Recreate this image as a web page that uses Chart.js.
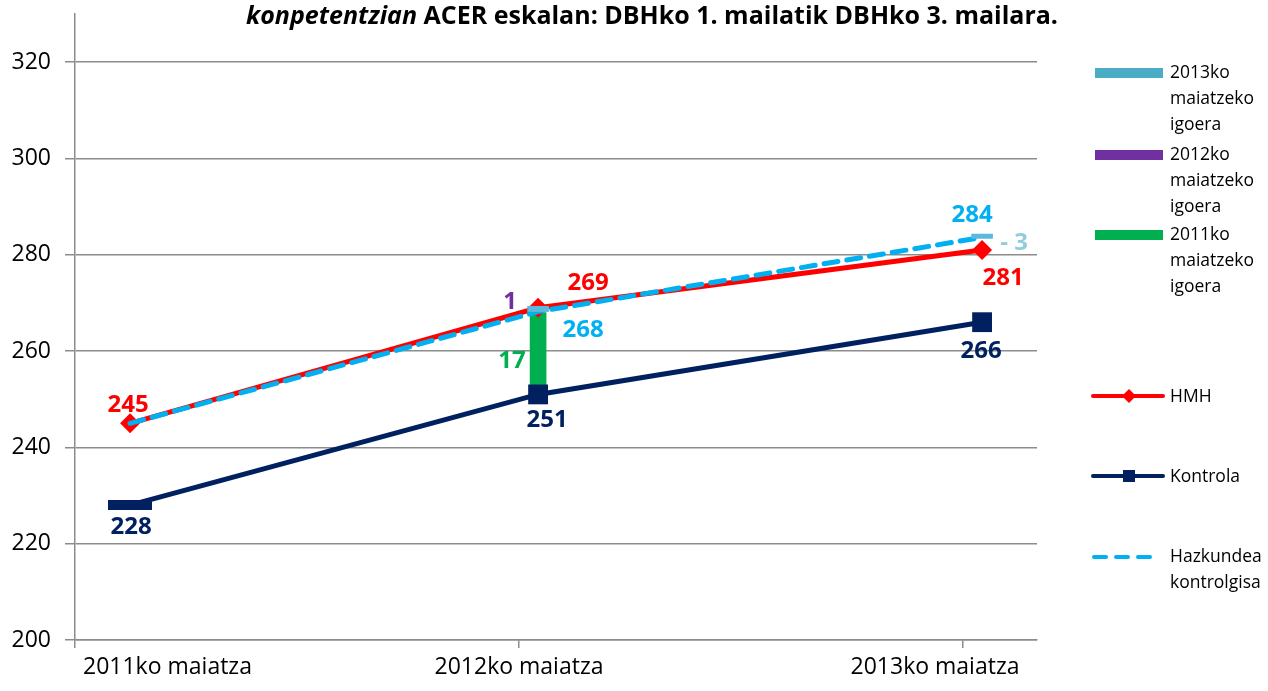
<!DOCTYPE html>
<html>
<head>
<meta charset="utf-8">
<script src="https://cdn.jsdelivr.net/npm/chart.js@4.4.0/dist/chart.umd.min.js"></script>
<style>
  html, body { margin: 0; background: #fff; }
</style>
</head>
<body>
<canvas id="chart" width="1268" height="691"></canvas>
<script>
// Categories and values
const years = ['2011ko maiatza', '2012ko maiatza', '2013ko maiatza'];
const xPos = [0.124, 1.043, 2.043];          // where each measurement sits on the date axis
const hmh = [245, 269, 281];
const kontrola = [228, 251, 266];
const hazkundea = [245, 268.2, 283.6];
const igoera = [17, 1, 3];                    // 2011, 2012, 2013 igoera labels
const igoera2011Bar = [251, 268];
const igoera2012Bar = [268.2, 269.3];
const igoera2013Bar = [283.4, 284.3];
const yTicks = [200, 220, 240, 260, 280, 300, 320];

const colors = {
  red: '#ff0000',
  navy: '#002060',
  dash: '#00b0f0',
  green: '#00b050',
  purple: '#7030a0',
  cyan: '#4bacc6',
  smallBar: '#5cb8dc',
  grid: '#8c8c8c',
  three: '#93cddd',
};

Chart.defaults.font.family = "'Open Sans', sans-serif";

// 2011 control marker is drawn as a wide flat block
const wideMark = document.createElement('canvas');
wideMark.width = 44;
wideMark.height = 10;
const wctx = wideMark.getContext('2d');
wctx.fillStyle = colors.navy;
wctx.fillRect(0, 0, 44, 10);

const pts = (vals) => vals.map((v, i) => ({ x: xPos[i], y: v }));

/* ======== Labels, title, legend ======== */
const decorPlugin = {
  id: 'decor',
  afterDatasetsDraw(chart) {
    const ctx = chart.ctx;
    const yScale = chart.scales.y;
    ctx.save();
    ctx.font = "bold 24px 'Open Sans'";
    ctx.textAlign = 'center';
    ctx.textBaseline = 'middle';

    const pointLabel = (dsIndex, i, dx, dy, color, text) => {
      const el = chart.getDatasetMeta(dsIndex).data[i];
      ctx.fillStyle = color;
      ctx.fillText(text, el.x + dx, el.y + dy);
    };
    // Hazkundea (0), HMH (1), Kontrola (2)
    pointLabel(1, 0, -2, -18, colors.red, hmh[0]);
    pointLabel(1, 1, 50, -25, colors.red, hmh[1]);
    pointLabel(1, 2, 21, 28, colors.red, hmh[2]);
    pointLabel(2, 0, 1, 22, colors.navy, kontrola[0]);
    pointLabel(2, 1, 9, 26, colors.navy, kontrola[1]);
    pointLabel(2, 2, -1, 29, colors.navy, kontrola[2]);
    pointLabel(0, 1, 45, 19, colors.dash, Math.round(hazkundea[1]));
    pointLabel(0, 2, -10, -22, colors.dash, Math.round(hazkundea[2]));

    // igoera labels
    const g = chart.getDatasetMeta(3).data[0];
    ctx.fillStyle = colors.green;
    ctx.fillText(igoera[0], g.x - 26, (g.y + g.base) / 2 + 8);
    const p = chart.getDatasetMeta(4).data[0];
    ctx.fillStyle = colors.purple;
    ctx.fillText(igoera[1], p.x - 28, p.y - 4);
    const c = chart.getDatasetMeta(5).data[0];
    ctx.fillStyle = colors.three;
    ctx.fillText('- ' + igoera[2], c.x + 32, yScale.getPixelForValue(hmh[2] + igoera[2] / 2));
    ctx.restore();
  },
  afterDraw(chart) {
    const ctx = chart.ctx;
    const xScale = chart.scales.x;
    ctx.save();

    // title (second line only is visible)
    const t1 = 'konpetentzian';
    const t2 = ' ACER eskalan: DBHko 1. mailatik DBHko 3. mailara.';
    ctx.fillStyle = '#000';
    ctx.textBaseline = 'alphabetic';
    ctx.font = "italic bold 25px 'Open Sans'";
    const w1 = ctx.measureText(t1).width;
    ctx.font = "bold 25px 'Open Sans'";
    const w2 = ctx.measureText(t2).width;
    let tx = 652 - (w1 + w2) / 2;
    ctx.font = "italic bold 25px 'Open Sans'";
    ctx.textAlign = 'left';
    ctx.fillText(t1, tx, 24);
    ctx.font = "bold 25px 'Open Sans'";
    ctx.fillText(t2, tx + w1, 24);

    // x labels (Excel date axis keeps them inside the plot width)
    ctx.font = "23px 'Open Sans'";
    ctx.textBaseline = 'middle';
    ctx.textAlign = 'left';
    ctx.fillText(years[0], xScale.getPixelForValue(0) + 8, 667);
    ctx.textAlign = 'center';
    ctx.fillText(years[1], xScale.getPixelForValue(1), 667);
    ctx.fillText(years[2], xScale.getPixelForValue(2) - 28, 667);

    // legend
    ctx.font = "17.5px 'Open Sans'";
    ctx.textAlign = 'left';
    const boxItems = [
      [colors.cyan, 73, ['2013ko', 'maiatzeko', 'igoera']],
      [colors.purple, 155, ['2012ko', 'maiatzeko', 'igoera']],
      [colors.green, 235, ['2011ko', 'maiatzeko', 'igoera']],
    ];
    boxItems.forEach(([col, y, lines]) => {
      ctx.fillStyle = col;
      ctx.fillRect(1095, y - 5, 68, 10);
      ctx.fillStyle = '#000';
      lines.forEach((s, k) => ctx.fillText(s, 1170, y + k * 26));
    });

    ctx.lineCap = 'round';
    ctx.lineWidth = 4;
    // HMH
    ctx.strokeStyle = colors.red;
    ctx.beginPath(); ctx.moveTo(1093, 396); ctx.lineTo(1163, 396); ctx.stroke();
    ctx.fillStyle = colors.red;
    ctx.beginPath();
    ctx.moveTo(1129, 389); ctx.lineTo(1136, 396); ctx.lineTo(1129, 403); ctx.lineTo(1122, 396);
    ctx.closePath(); ctx.fill();
    ctx.fillStyle = '#000';
    ctx.fillText('HMH', 1170, 397);
    // Kontrola
    ctx.strokeStyle = colors.navy;
    ctx.beginPath(); ctx.moveTo(1093, 476); ctx.lineTo(1163, 476); ctx.stroke();
    ctx.fillStyle = colors.navy;
    ctx.fillRect(1123, 470, 12, 12);
    ctx.fillStyle = '#000';
    ctx.fillText('Kontrola', 1170, 477);
    // Hazkundea
    ctx.strokeStyle = colors.dash;
    ctx.setLineDash([12, 10]);
    ctx.beginPath(); ctx.moveTo(1094, 557); ctx.lineTo(1160, 557); ctx.stroke();
    ctx.setLineDash([]);
    ctx.fillStyle = '#000';
    ctx.fillText('Hazkundea', 1170, 557);
    ctx.fillText('kontrolgisa', 1170, 583);
    ctx.restore();
  }
};

new Chart(document.getElementById('chart'), {
  type: 'line',
  data: {
    datasets: [
      {
        label: 'Hazkundea kontrolgisa',
        data: pts(hazkundea),
        borderColor: colors.dash,
        borderWidth: 5,
        borderDash: [14, 9],
        borderCapStyle: 'round',
        pointRadius: 0,
        tension: 0,
        order: 0,
      },
      {
        label: 'HMH',
        data: pts(hmh),
        borderColor: colors.red,
        backgroundColor: colors.red,
        borderWidth: 5,
        pointStyle: 'rectRot',
        pointRadius: 10,
        pointBorderWidth: 0,
        tension: 0,
        order: 1,
      },
      {
        label: 'Kontrola',
        data: pts(kontrola),
        borderColor: colors.navy,
        backgroundColor: colors.navy,
        borderWidth: 5,
        pointStyle: [wideMark, 'rect', 'rect'],
        pointRadius: 14,
        pointBorderWidth: 0,
        tension: 0,
        order: 2,
      },
      {
        type: 'bar',
        label: '2011ko maiatzeko igoera',
        data: [{ x: xPos[1], y: igoera2011Bar }],
        backgroundColor: colors.green,
        barThickness: 16,
        grouped: false,
        order: 3,
      },
      {
        type: 'bar',
        label: '2012ko maiatzeko igoera',
        data: [{ x: xPos[1], y: igoera2012Bar }],
        backgroundColor: colors.smallBar,
        barThickness: 21,
        grouped: false,
        order: -1,
      },
      {
        type: 'bar',
        label: '2013ko maiatzeko igoera',
        data: [{ x: xPos[2], y: igoera2013Bar }],
        backgroundColor: colors.smallBar,
        barThickness: 21,
        grouped: false,
        order: -1,
      },
    ]
  },
  options: {
    responsive: false,
    animation: false,
    layout: { padding: { top: 13, right: 231, left: 0, bottom: 0 } },
    plugins: {
      legend: { display: false },
      tooltip: { enabled: false },
    },
    scales: {
      x: {
        type: 'linear',
        min: 0,
        max: 2.1667,
        offset: false,
        afterBuildTicks: (axis) => { axis.ticks = [0, 1, 2].map(v => ({ value: v })); },
        afterFit: (scale) => {
          scale.height = 51;
          scale.paddingLeft = 0;
          scale.paddingRight = 0;
        },
        ticks: { display: false },
        grid: { offset: false, drawOnChartArea: false, drawTicks: true, tickLength: 8, color: colors.grid, lineWidth: 1.5 },
        border: { color: colors.grid, width: 1.5 },
      },
      y: {
        min: 200,
        max: 330,
        afterBuildTicks: (axis) => { axis.ticks = yTicks.map(v => ({ value: v })); },
        afterFit: (scale) => {
          scale.width = 75;
          scale.paddingTop = 0;
          scale.paddingBottom = 0;
        },
        ticks: { color: '#000', font: { size: 23 }, padding: 14 },
        grid: { color: colors.grid, lineWidth: 1.5, tickLength: 10 },
        border: { color: colors.grid, width: 1.5 },
      }
    }
  },
  plugins: [decorPlugin]
});
</script>
</body>
</html>
